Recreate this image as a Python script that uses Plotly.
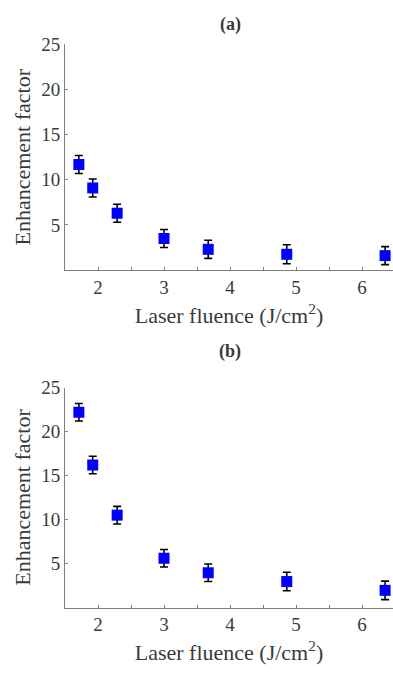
import plotly.graph_objects as go

fluence = [1.71, 1.92, 2.29, 3.0, 3.67, 4.86, 6.35]
ef_a = [11.7, 9.1, 6.3, 3.5, 2.3, 1.75, 1.6]
err_a = [1.0, 1.0, 1.0, 1.0, 1.0, 1.05, 1.0]
ef_b = [22.2, 16.2, 10.5, 5.6, 3.95, 2.95, 1.95]
err_b = [1.0, 1.0, 1.0, 1.0, 1.0, 1.05, 1.05]
panel_titles = ["(a)", "(b)"]
x_ticks = [2, 3, 4, 5, 6]
x_minor = [1.5, 2, 2.5, 3, 3.5, 4, 4.5, 5, 5.5, 6, 6.5]
y_ticks = [5, 10, 15, 20, 25]

W, H = 393, 674
FONT = "Liberation Serif, Times New Roman, serif"
TXT = "#3a3a3a"
AX = "#808080"

fig = go.Figure()
panels = [(ef_a, err_a, "x", "y"), (ef_b, err_b, "x2", "y2")]
for ys, es, xa, ya in panels:
    fig.add_trace(go.Scatter(
        x=fluence, y=ys, xaxis=xa, yaxis=ya, mode="markers",
        marker=dict(symbol="square", size=11, color="#0000ff", line=dict(width=0)),
        error_y=dict(type="data", array=es, visible=True, color="black",
                     thickness=1.6, width=4),
        showlegend=False, cliponaxis=False,
    ))

x_left = 65 / W
x_range = [1.5, 1.5 + (W - 65) / 66.0]
dom_a = [1 - 264 / H, 1 - 35 / H]
dom_b = [1 - 606.5 / H, 1 - 383.3 / H]

def xaxis(anchor):
    return dict(domain=[x_left, 1.0], range=x_range, anchor=anchor,
                tickmode="array", tickvals=x_ticks, ticks="inside", ticklen=3,
                tickcolor=AX, showline=True, linecolor=AX, linewidth=1,
                showgrid=False, zeroline=False,
                minor=dict(tickmode="array", tickvals=x_minor, ticks="inside",
                           ticklen=3, tickcolor=AX, showgrid=False),
                tickfont=dict(family=FONT, size=19, color=TXT),
                title=dict(text="Laser fluence (J/cm<sup>2</sup>)", standoff=10,
                           font=dict(family=FONT, size=22, color=TXT)))

def yaxis(anchor, dom):
    return dict(domain=dom, range=[0, 25], anchor=anchor,
                tickmode="array", tickvals=y_ticks, ticks="inside", ticklen=3,
                tickcolor=AX, showline=True, linecolor=AX, linewidth=1,
                showgrid=False, zeroline=False,
                tickfont=dict(family=FONT, size=19, color=TXT),
                title=dict(text="Enhancement factor", standoff=4,
                           font=dict(family=FONT, size=22, color=TXT)))

fig.update_layout(
    width=W, height=H, margin=dict(l=0, r=0, t=0, b=0),
    plot_bgcolor="white", paper_bgcolor="white",
    font=dict(family=FONT),
    xaxis=xaxis("y"), yaxis=yaxis("x", dom_a),
    xaxis2=xaxis("y2"), yaxis2=yaxis("x2", dom_b),
)

centers = [(230, 15), (230, 347)]
for t, (cx, cy) in zip(panel_titles, centers):
    fig.add_annotation(text="<b>%s</b>" % t, x=cx / W, y=1 - cy / H,
                       xref="paper", yref="paper", showarrow=False,
                       xanchor="center", yanchor="middle",
                       font=dict(family=FONT, size=18, color=TXT))

fig.write_html("out.html")
